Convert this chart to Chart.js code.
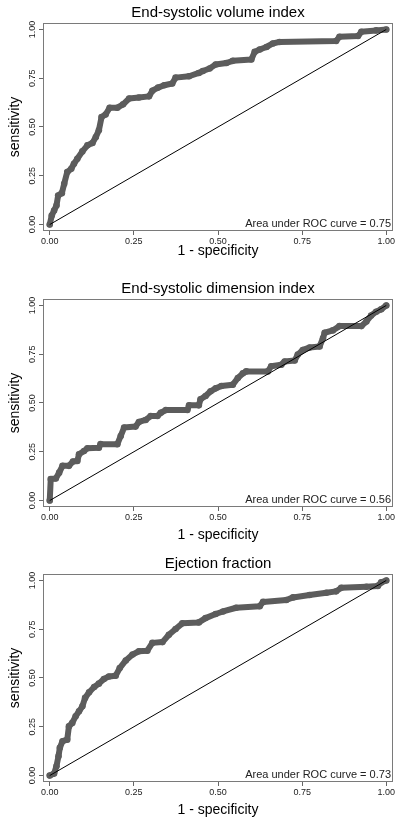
<!DOCTYPE html>
<html>
<head>
<meta charset="utf-8">
<title>ROC curves</title>
<script src="https://cdn.jsdelivr.net/npm/chart.js@4.4.1/dist/chart.umd.min.js"></script>
<style>
  html, body { margin: 0; padding: 0; background: #fff; }
  body { width: 400px; height: 821px; overflow: hidden; position: relative; }
  .panel { position: absolute; left: 0; width: 400px; height: 276px; }
</style>
</head>
<body>
<div class="panel" style="top:0"><canvas id="rocVolume" width="400" height="276"></canvas></div>
<div class="panel" style="top:276px"><canvas id="rocDimension" width="400" height="276"></canvas></div>
<div class="panel" style="top:551px"><canvas id="rocEjection" width="400" height="276"></canvas></div>

<script>
// tick values shared by both axes
const axisTicks = [0, 0.25, 0.5, 0.75, 1];

// End-systolic volume index
const volumeFpr = [0, 0.006, 0.013, 0.02, 0.025, 0.036, 0.043, 0.052, 0.064, 0.072, 0.082, 0.097, 0.112, 0.127, 0.137, 0.146, 0.154, 0.166, 0.178, 0.201, 0.218, 0.236, 0.265, 0.295, 0.305, 0.322, 0.34, 0.364, 0.374, 0.414, 0.443, 0.455, 0.475, 0.493, 0.525, 0.544, 0.599, 0.609, 0.624, 0.644, 0.663, 0.683, 0.851, 0.861, 0.916, 0.926, 0.97, 1];
const volumeTpr = [0, 0.046, 0.072, 0.098, 0.149, 0.161, 0.209, 0.269, 0.286, 0.312, 0.337, 0.375, 0.406, 0.418, 0.449, 0.483, 0.551, 0.564, 0.599, 0.599, 0.616, 0.646, 0.651, 0.657, 0.686, 0.702, 0.714, 0.723, 0.753, 0.76, 0.777, 0.787, 0.80, 0.82, 0.828, 0.839, 0.846, 0.885, 0.897, 0.91, 0.928, 0.936, 0.941, 0.962, 0.966, 0.988, 0.995, 1];

// End-systolic dimension index
const dimensionFpr = [0, 0.003, 0.018, 0.028, 0.038, 0.057, 0.069, 0.082, 0.087, 0.102, 0.112, 0.146, 0.151, 0.201, 0.211, 0.221, 0.255, 0.265, 0.285, 0.30, 0.32, 0.33, 0.345, 0.409, 0.414, 0.443, 0.448, 0.463, 0.478, 0.493, 0.51, 0.544, 0.559, 0.574, 0.584, 0.648, 0.658, 0.688, 0.698, 0.728, 0.737, 0.752, 0.772, 0.802, 0.812, 0.817, 0.841, 0.861, 0.926, 0.941, 0.955, 0.97, 0.985, 1];
const dimensionTpr = [0, 0.11, 0.113, 0.143, 0.178, 0.178, 0.2, 0.203, 0.237, 0.254, 0.268, 0.271, 0.289, 0.289, 0.331, 0.374, 0.379, 0.403, 0.413, 0.433, 0.433, 0.45, 0.464, 0.464, 0.488, 0.488, 0.519, 0.536, 0.56, 0.575, 0.587, 0.594, 0.628, 0.652, 0.662, 0.662, 0.688, 0.696, 0.713, 0.718, 0.748, 0.772, 0.784, 0.79, 0.832, 0.86, 0.872, 0.894, 0.894, 0.918, 0.948, 0.968, 0.98, 1];

// Ejection fraction
const ejectionFpr = [0, 0.013, 0.02, 0.026, 0.03, 0.038, 0.052, 0.057, 0.067, 0.077, 0.087, 0.097, 0.105, 0.117, 0.132, 0.146, 0.161, 0.176, 0.196, 0.208, 0.226, 0.246, 0.265, 0.29, 0.305, 0.335, 0.354, 0.374, 0.394, 0.443, 0.463, 0.493, 0.515, 0.554, 0.624, 0.634, 0.703, 0.723, 0.772, 0.822, 0.851, 0.866, 0.941, 0.975, 0.985, 1];
const ejectionTpr = [0, 0.01, 0.048, 0.099, 0.142, 0.176, 0.184, 0.252, 0.27, 0.304, 0.329, 0.355, 0.398, 0.427, 0.454, 0.471, 0.495, 0.508, 0.512, 0.551, 0.59, 0.62, 0.637, 0.64, 0.68, 0.684, 0.722, 0.751, 0.78, 0.785, 0.807, 0.828, 0.841, 0.86, 0.868, 0.89, 0.9, 0.913, 0.925, 0.937, 0.944, 0.962, 0.968, 0.972, 0.99, 1];

const panelTitles = ["End-systolic volume index", "End-systolic dimension index", "Ejection fraction"];
const panelAuc = [0.75, 0.56, 0.73];

const curveColor = "#5c5c5c";
const frameColor = "#7a7a7a";

Chart.defaults.font.family = "'Liberation Sans', Arial, sans-serif";
Chart.defaults.color = "#222";

// box around the plot area plus the AUC note in the lower right corner
const rocFrame = {
  id: "rocFrame",
  afterDraw(chart, args, opts) {
    const { ctx, chartArea: a } = chart;
    ctx.save();
    ctx.strokeStyle = frameColor;
    ctx.lineWidth = 1;
    ctx.strokeRect(Math.round(a.left) + 0.5, Math.round(a.top) + 0.5, Math.round(a.right - a.left) - 1, Math.round(a.bottom - a.top) - 1);
    ctx.font = "11px 'Liberation Sans', Arial, sans-serif";
    ctx.fillStyle = "#222";
    ctx.textAlign = "right";
    ctx.textBaseline = "alphabetic";
    ctx.fillText(`Area under ROC curve = ${opts.auc.toFixed(2)}`, a.right - 2, a.bottom - 4);
    ctx.restore();
  }
};

function fixedTicks(scale) {
  scale.ticks = axisTicks.map(v => ({ value: v }));
}

// xAxisHeight: room under the plot for tick labels and the axis title
function makeRocChart(canvasId, title, fpr, tpr, auc, xAxisHeight) {
  const ctx = document.getElementById(canvasId).getContext("2d");
  return new Chart(ctx, {
    type: "scatter",
    data: {
      datasets: [
        {
          label: "reference",
          data: [{ x: 0, y: 0 }, { x: 1, y: 1 }],
          showLine: true,
          borderColor: "#000",
          borderWidth: 1,
          pointRadius: 0
        },
        {
          label: title,
          data: fpr.map((x, i) => ({ x: x, y: tpr[i] })),
          showLine: true,
          borderColor: curveColor,
          backgroundColor: curveColor,
          borderWidth: 6,
          borderJoinStyle: "round",
          borderCapStyle: "round",
          pointRadius: 3.3,
          pointBorderWidth: 0
        }
      ]
    },
    options: {
      responsive: false,
      animation: false,
      layout: { padding: { left: 0, right: 7, top: 0, bottom: 45 - xAxisHeight } },
      plugins: {
        legend: { display: false },
        tooltip: { enabled: false },
        title: {
          display: true,
          text: title,
          fullSize: false,
          color: "#000",
          font: { size: 15, weight: "normal" },
          padding: { top: 4, bottom: 1 }
        },
        rocFrame: { auc: auc }
      },
      scales: {
        x: {
          type: "linear",
          min: -0.02,
          max: 1.02,
          afterBuildTicks: fixedTicks,
          afterFit: s => { s.height = xAxisHeight; },
          border: { display: false },
          grid: { drawOnChartArea: false, drawTicks: true, tickLength: 4, color: "#666" },
          ticks: {
            autoSkip: false,
            maxRotation: 0,
            padding: 1,
            font: { size: 9 },
            callback: v => v.toFixed(2)
          },
          title: {
            display: true,
            text: "1 - specificity",
            color: "#000",
            font: { size: 14 },
            padding: { top: 0, bottom: 0 }
          }
        },
        y: {
          min: -0.033,
          max: 1.033,
          afterBuildTicks: fixedTicks,
          afterFit: s => { s.width = 43; },
          border: { display: false },
          grid: { drawOnChartArea: false, drawTicks: true, tickLength: 4, color: "#666" },
          ticks: {
            autoSkip: false,
            minRotation: 90,
            maxRotation: 90,
            crossAlign: "center",
            padding: -2.5,
            font: { size: 9 },
            callback: v => v.toFixed(2)
          },
          title: {
            display: true,
            text: "sensitivity",
            color: "#000",
            font: { size: 14 },
            padding: { top: 7, bottom: 0 }
          }
        }
      }
    },
    plugins: [rocFrame]
  });
}

makeRocChart("rocVolume", panelTitles[0], volumeFpr, volumeTpr, panelAuc[0], 28.4);
makeRocChart("rocDimension", panelTitles[1], dimensionFpr, dimensionTpr, panelAuc[1], 37);
makeRocChart("rocEjection", panelTitles[2], ejectionFpr, ejectionTpr, panelAuc[2], 37);
</script>
</body>
</html>
